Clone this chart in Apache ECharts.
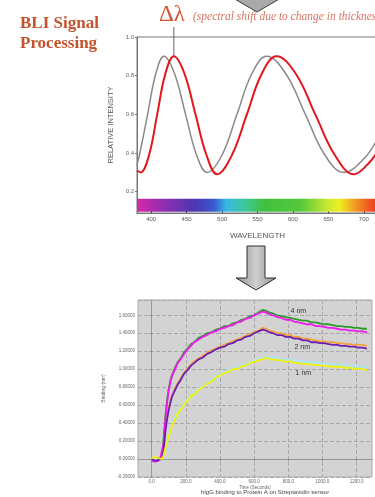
<!DOCTYPE html>
<html>
<head>
<meta charset="utf-8">
<title>BLI Signal Processing</title>
<script src="https://cdn.jsdelivr.net/npm/echarts@6/dist/echarts.min.js"></script>
<style>
  html, body { margin: 0; padding: 0; background: #fff; }
  #main { width: 375px; height: 497px; }
</style>
</head>
<body>
<div id="main"></div>
<script>
// ---- top panel: interference spectrum (wavelength / relative intensity) ----
var grayWl  = [380, 383.5, 395, 406.5, 418, 433, 448.5, 464, 479, 500, 521, 542, 563, 590, 617.5, 645, 672, 700, 720];
var grayVal = [0.34, 0.39, 0.60, 0.81, 0.90, 0.81, 0.60, 0.39, 0.30, 0.39, 0.60, 0.81, 0.90, 0.81, 0.60, 0.39, 0.30, 0.37, 0.48];
var redWl   = [380, 385, 397, 408.5, 420, 432, 447, 462.5, 478, 493, 514, 535, 556, 577, 604, 631.5, 659, 686, 705, 720];
var redVal  = [0.31, 0.30, 0.39, 0.60, 0.81, 0.90, 0.81, 0.60, 0.39, 0.29, 0.39, 0.60, 0.81, 0.90, 0.81, 0.60, 0.39, 0.29, 0.34, 0.41];
var wlTicks = [400, 450, 500, 550, 600, 650, 700];
var intensityTicks = [0.2, 0.4, 0.6, 0.8, 1.0];
var shiftPeak = [432, 0.90]; // red peak marked by the delta-lambda line

// ---- bottom panel: binding curves (time / binding) ----
var timeSec = [0, 10, 20, 30, 40, 50, 60,
  70, 80, 90, 100, 110, 120, 135, 150, 170, 190, 210, 230, 250, 275, 300, 325, 350, 375, 400, 425, 450, 475, 500, 525, 550, 575, 600, 625, 650,
  670, 690, 710, 735, 760, 785, 810, 835, 860, 885, 910, 935, 960, 985, 1010, 1035, 1060, 1085, 1110, 1135, 1160, 1185, 1210, 1235, 1260];
var green4 = [0.00, 0.01, -0.01, 0.00, 0.01, 0.00, 0.00,
  0.22, 0.47, 0.65, 0.78, 0.88, 0.94, 1.01, 1.07, 1.12, 1.19, 1.23, 1.28, 1.30, 1.35, 1.37, 1.40, 1.41, 1.44, 1.45, 1.48, 1.48, 1.51, 1.52, 1.55, 1.56, 1.59, 1.60, 1.63, 1.66,
  1.65, 1.63, 1.62, 1.60, 1.59, 1.58, 1.57, 1.56, 1.55, 1.54, 1.54, 1.52, 1.52, 1.51, 1.50, 1.50, 1.49, 1.48, 1.48, 1.47, 1.47, 1.46, 1.46, 1.45, 1.45];
var magenta4 = [-0.02, 0.00, -0.03, -0.01, -0.02, 0.01, -0.01,
  0.18, 0.44, 0.62, 0.77, 0.86, 0.93, 0.99, 1.06, 1.11, 1.17, 1.22, 1.26, 1.30, 1.33, 1.36, 1.38, 1.41, 1.42, 1.45, 1.46, 1.48, 1.49, 1.52, 1.53, 1.56, 1.57, 1.60, 1.62, 1.64,
  1.63, 1.61, 1.60, 1.58, 1.57, 1.55, 1.55, 1.53, 1.52, 1.51, 1.50, 1.50, 1.48, 1.48, 1.47, 1.46, 1.46, 1.45, 1.44, 1.44, 1.43, 1.43, 1.42, 1.42, 1.41];
var orange2 = [0.01, -0.01, 0.00, 0.02, 0.00, -0.01, 0.01,
  0.14, 0.34, 0.47, 0.57, 0.66, 0.71, 0.78, 0.84, 0.90, 0.96, 1.01, 1.05, 1.09, 1.12, 1.15, 1.18, 1.21, 1.23, 1.25, 1.27, 1.29, 1.31, 1.33, 1.35, 1.37, 1.39, 1.41, 1.43, 1.46,
  1.45, 1.43, 1.42, 1.40, 1.40, 1.38, 1.38, 1.36, 1.36, 1.34, 1.34, 1.33, 1.32, 1.31, 1.31, 1.30, 1.30, 1.29, 1.29, 1.28, 1.28, 1.27, 1.27, 1.27, 1.26];
var purple2 = [0.00, 0.01, -0.02, 0.00, -0.01, 0.01, 0.00,
  0.10, 0.30, 0.44, 0.55, 0.63, 0.70, 0.76, 0.82, 0.88, 0.95, 0.99, 1.04, 1.07, 1.11, 1.13, 1.17, 1.19, 1.22, 1.24, 1.25, 1.28, 1.29, 1.32, 1.33, 1.36, 1.37, 1.40, 1.42, 1.44,
  1.43, 1.41, 1.40, 1.38, 1.38, 1.36, 1.36, 1.34, 1.34, 1.32, 1.32, 1.30, 1.30, 1.29, 1.29, 1.28, 1.27, 1.27, 1.26, 1.26, 1.25, 1.25, 1.24, 1.24, 1.23];
var cyan1 = [0.00, 0.01, 0.00, 0.01, 0.00, 0.01, 0.00,
  0.05, 0.13, 0.20, 0.27, 0.33, 0.39, 0.45, 0.51, 0.57, 0.62, 0.67, 0.71, 0.74, 0.78, 0.82, 0.85, 0.88, 0.92, 0.95, 0.97, 0.99, 1.01, 1.03, 1.04, 1.06, 1.08, 1.10, 1.11, 1.13,
  1.14, 1.13, 1.13, 1.12, 1.12, 1.11, 1.10, 1.10, 1.09, 1.09, 1.08, 1.08, 1.07, 1.07, 1.06, 1.06, 1.05, 1.05, 1.05, 1.04, 1.04, 1.03, 1.03, 1.02, 1.02];
var yellow1 = [0.01, 0.00, 0.02, 0.00, 0.01, -0.01, 0.00,
  0.04, 0.12, 0.18, 0.26, 0.31, 0.38, 0.43, 0.50, 0.55, 0.61, 0.65, 0.70, 0.72, 0.77, 0.80, 0.84, 0.86, 0.91, 0.93, 0.96, 0.97, 1.00, 1.00, 1.03, 1.04, 1.07, 1.08, 1.10, 1.11,
  1.13, 1.11, 1.11, 1.10, 1.10, 1.08, 1.09, 1.07, 1.07, 1.06, 1.06, 1.05, 1.05, 1.04, 1.04, 1.03, 1.03, 1.02, 1.03, 1.01, 1.02, 1.00, 1.01, 1.00, 0.99];
var timeTicks = [0, 200, 400, 600, 800, 1000, 1200];
var concLabels = ['4 nm', '2 nm', '1 nm'];
var concLabelPos = [[859, 1.65], [882, 1.25], [888, 0.96]];

function pairs(xs, ys) {
  var out = [];
  for (var i = 0; i < xs.length; i++) out.push([xs[i], ys[i]]);
  return out;
}

// visible spectrum strip under the curves
var spectrum = new echarts.graphic.LinearGradient(0, 0, 1, 0, [
  { offset: 0.00, color: '#d62aa6' },
  { offset: 0.12, color: '#8a2fb0' },
  { offset: 0.24, color: '#4c36b2' },
  { offset: 0.32, color: '#3a5ad0' },
  { offset: 0.37, color: '#38b6e6' },
  { offset: 0.44, color: '#3ec8a0' },
  { offset: 0.53, color: '#40c040' },
  { offset: 0.68, color: '#56c83c' },
  { offset: 0.79, color: '#c8e830' },
  { offset: 0.84, color: '#f0f020' },
  { offset: 0.90, color: '#f0a020' },
  { offset: 0.96, color: '#f05a20' },
  { offset: 1.00, color: '#e83a20' }
]);

function noisy(name, data, color, z) {
  return {
    name: name, type: 'line', xAxisIndex: 1, yAxisIndex: 1,
    data: data, showSymbol: false, smooth: false, z: z,
    lineStyle: { color: color, width: 1.8 }
  };
}

var chart = echarts.init(document.getElementById('main'), null, { renderer: 'canvas' });

var option = {
  animation: false,
  backgroundColor: '#ffffff',
  grid: [
    { left: 137, top: 37, width: 241, height: 176, show: true, borderColor: '#777', borderWidth: 1,
      backgroundColor: 'transparent', outerBoundsMode: 'none' },
    { left: 138, top: 300, width: 234, height: 177, show: true, borderColor: '#aaa', borderWidth: 1,
      backgroundColor: '#d3d3d3', outerBoundsMode: 'none' }
  ],
  xAxis: [
    { type: 'value', gridIndex: 0, min: 380, max: 720,
      name: 'WAVELENGTH', nameLocation: 'middle', nameGap: 19,
      nameTextStyle: { fontSize: 8, color: '#555', fontFamily: 'Liberation Sans' },
      axisLine: { lineStyle: { color: '#777' } },
      axisTick: { customValues: wlTicks, inside: true, length: 3, lineStyle: { color: '#333' } },
      axisLabel: { customValues: wlTicks, fontSize: 6, color: '#555', margin: 3, fontFamily: 'Liberation Sans' },
      splitLine: { show: false } },
    { type: 'value', gridIndex: 1, min: -80, max: 1290,
      name: 'Time (Seconds)', nameLocation: 'middle', nameGap: 7,
      nameTextStyle: { fontSize: 4.5, color: '#666' },
      axisLine: { lineStyle: { color: '#999' } },
      axisTick: { customValues: timeTicks, length: 2, lineStyle: { color: '#888' } },
      axisLabel: { customValues: timeTicks, fontSize: 4.5, color: '#666', margin: 2,
        formatter: function (v) { return v.toFixed(1); } },
      splitLine: { show: true, lineStyle: { color: '#a9a9a9', type: 'dashed', width: 1 } } }
  ],
  yAxis: [
    { type: 'value', gridIndex: 0, min: 0.09, max: 1.0,
      name: 'RELATIVE INTENSITY', nameLocation: 'middle', nameGap: 22,
      nameTextStyle: { fontSize: 7.5, color: '#555', fontFamily: 'Liberation Sans' },
      axisLine: { show: true, lineStyle: { color: '#777' } },
      axisTick: { show: true, customValues: intensityTicks, length: 2, lineStyle: { color: '#777' } },
      axisLabel: { customValues: intensityTicks, fontSize: 6, color: '#666', margin: 3,
        formatter: function (v) { return v.toFixed(1); } },
      splitLine: { show: false } },
    { type: 'value', gridIndex: 1, min: -0.2, max: 1.77, interval: 0.2,
      name: 'Binding (nm)', nameLocation: 'middle', nameGap: 20,
      nameTextStyle: { fontSize: 5, color: '#666' },
      axisLine: { show: true, lineStyle: { color: '#999' } },
      axisTick: { show: true, length: 2, lineStyle: { color: '#888' } },
      axisLabel: { fontSize: 4.5, color: '#666', margin: 3, showMaxLabel: false,
        formatter: function (v) { return v.toFixed(5); } },
      splitLine: { show: true, lineStyle: { color: '#a9a9a9', type: 'dashed', width: 1 } } }
  ],
  series: [
    { name: 'before', type: 'line', xAxisIndex: 0, yAxisIndex: 0,
      data: pairs(grayWl, grayVal), showSymbol: false, smooth: 0.4, z: 3,
      lineStyle: { color: '#8a8a8a', width: 1.5 },
      markArea: { silent: true, itemStyle: { color: spectrum },
        data: [[{ coord: [380, 0.097] }, { coord: [720, 0.164] }]] } },
    { name: 'after', type: 'line', xAxisIndex: 0, yAxisIndex: 0,
      data: pairs(redWl, redVal), showSymbol: false, smooth: 0.4, z: 4,
      lineStyle: { color: '#e3161b', width: 2 } },
    noisy('4 nm a', pairs(timeSec, green4), '#2e9a2e', 3),
    noisy('4 nm b', pairs(timeSec, magenta4), '#f01af0', 4),
    noisy('2 nm b', pairs(timeSec, orange2), '#f2a23a', 3),
    noisy('2 nm a', pairs(timeSec, purple2), '#6a1fb4', 4),
    noisy('1 nm b', pairs(timeSec, cyan1), '#a8e6f6', 3),
    noisy('1 nm a', pairs(timeSec, yellow1), '#f2f20a', 4)
  ]
};
chart.setOption(option);

// annotations placed after the axes exist
var peakPx = chart.convertToPixel({ xAxisIndex: 0, yAxisIndex: 0 }, shiftPeak);
var elements = [
  // arrow cut at the top edge
  { type: 'polygon', shape: { points: [[233, -2], [281, -2], [257, 12]] },
    style: { fill: '#a9a9a9', stroke: '#3a3a3a', lineWidth: 1 } },
  { type: 'text', left: 20, top: 15,
    style: { text: 'BLI Signal', fill: '#c4532b', font: 'bold 17px "Liberation Serif", serif' } },
  { type: 'text', left: 20, top: 35,
    style: { text: 'Processing', fill: '#c4532b', font: 'bold 17px "Liberation Serif", serif' } },
  { type: 'text', left: 159, top: 3,
    style: { text: 'Δλ', fill: '#d2502e', font: '23px "Liberation Serif", serif' } },
  { type: 'text', x: 193, y: 17,
    style: { text: '(spectral shift due to change in thickness', fill: '#d67460',
      font: 'italic 11.5px "Liberation Serif", serif', textVerticalAlign: 'middle' } },
  { type: 'line', shape: { x1: peakPx[0], y1: peakPx[1], x2: peakPx[0], y2: 27 },
    style: { stroke: '#666', lineWidth: 1 } },
  // middle arrow between the panels
  { type: 'polygon',
    shape: { points: [[247, 246], [265, 246], [265, 278], [276, 278], [256, 290], [236, 278], [247, 278]] },
    style: { fill: new echarts.graphic.LinearGradient(0, 0, 1, 0, [
      { offset: 0, color: '#8f8f8f' }, { offset: 0.5, color: '#cfcfcf' }, { offset: 1, color: '#8f8f8f' }]),
      stroke: '#2f2f2f', lineWidth: 1 } },
  { type: 'text', x: 265, y: 492,
    style: { text: 'hIgG binding to Protein A on Streptavidin sensor', fill: '#444',
      font: '6px "Liberation Sans", sans-serif', textAlign: 'center', textVerticalAlign: 'middle' } }
];
for (var i = 0; i < concLabels.length; i++) {
  var p = chart.convertToPixel({ xAxisIndex: 1, yAxisIndex: 1 }, concLabelPos[i]);
  elements.push({ type: 'text', x: p[0], y: p[1],
    style: { text: concLabels[i], fill: '#333', font: '7px "Liberation Sans", sans-serif',
      textAlign: 'center', textVerticalAlign: 'middle' } });
}
chart.setOption({ graphic: { elements: elements } });
</script>
</body>
</html>
